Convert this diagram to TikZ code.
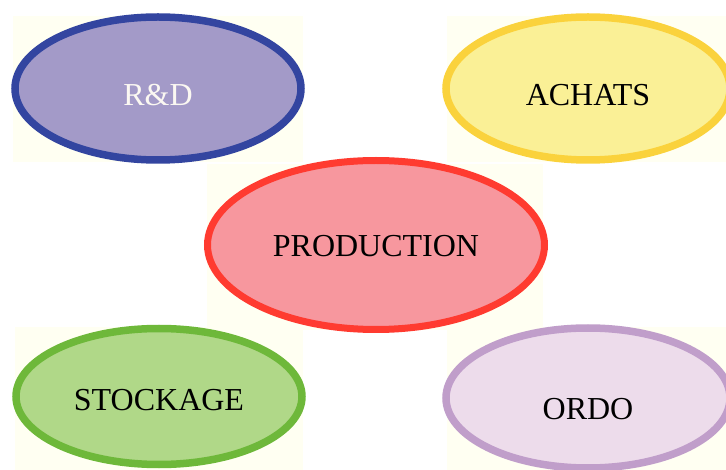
\documentclass[tikz,border=0pt]{standalone}
\usepackage{fontspec}
\setmainfont{Liberation Serif}
\usepackage{tikz}
\usetikzlibrary{shapes.geometric, positioning}

\definecolor{ivory}{HTML}{FFFFF2}
\definecolor{rdfill}{HTML}{A39AC8}
\definecolor{rdline}{HTML}{3345A0}
\definecolor{achfill}{HTML}{FAF096}
\definecolor{achline}{HTML}{FAD23C}
\definecolor{prodfill}{HTML}{F7979E}
\definecolor{prodline}{HTML}{FF3B30}
\definecolor{stockfill}{HTML}{B0D888}
\definecolor{stockline}{HTML}{6EB83A}
\definecolor{ordofill}{HTML}{EDDCEB}
\definecolor{ordoline}{HTML}{C09ECA}
\definecolor{rdtext}{HTML}{FBF8F2}

\begin{document}
\begin{tikzpicture}[
    x=1pt, y=-1pt,
    stage/.style={ellipse, inner sep=0pt, line width=7.5pt},
    txt/.style={font=\fontsize{32pt}{38pt}\selectfont, text=black, inner sep=0pt},
    backdrop/.style={fill=ivory}
]
    \useasboundingbox (0,0) rectangle (726,470);

    % pale backdrops behind each service
    \fill[backdrop] (13,16) rectangle (303,162);
    \fill[backdrop] (447,16) rectangle (726,162);
    \fill[backdrop] (207,164) rectangle (543,330);
    \fill[backdrop] (15,327) rectangle (303,470);
    \fill[backdrop] (447,327) rectangle (726,470);

    \node (rd) [stage, fill=rdfill, draw=rdline, minimum width=286pt, minimum height=143pt,
        label={[txt, text=rdtext, yshift=-7pt]center:R\&D}] at (158,88.5) {};
    \node (achats) [stage, fill=achfill, draw=achline, minimum width=284pt, minimum height=143pt,
        label={[txt, yshift=-7pt]center:ACHATS}] at (588,88.5) {};
    \node (prod) [stage, fill=prodfill, draw=prodline, line width=7pt, minimum width=337pt, minimum height=169pt,
        label={[txt, yshift=-1pt]center:PRODUCTION}] at (376,245) {};
    \node (stock) [stage, fill=stockfill, draw=stockline, minimum width=286pt, minimum height=136pt,
        label={[txt, yshift=-3.5pt]center:STOCKAGE}] at (159,396.5) {};
    \node (ordo) [stage, fill=ordofill, draw=ordoline, minimum width=284pt, minimum height=140pt,
        label={[txt, yshift=-11pt]center:ORDO}] at (588,398) {};
\end{tikzpicture}
\end{document}
